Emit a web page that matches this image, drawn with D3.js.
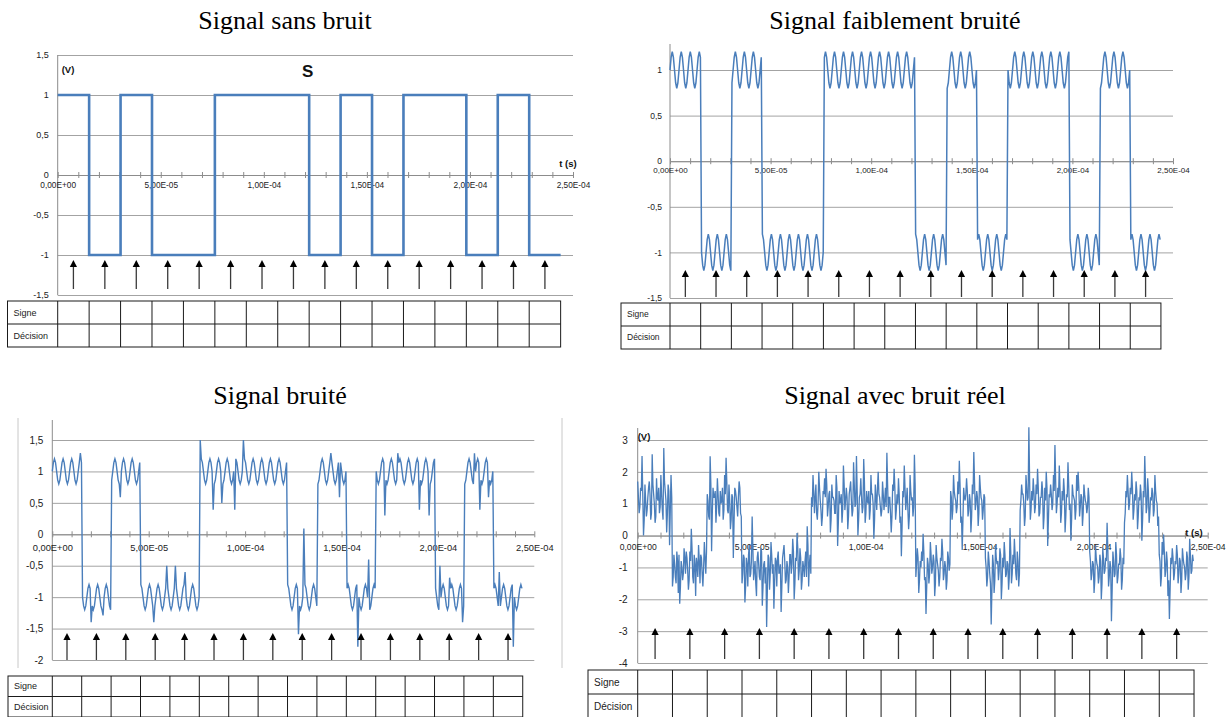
<!DOCTYPE html>
<html><head><meta charset="utf-8">
<script src="https://cdn.jsdelivr.net/npm/d3@7"></script>
<style>body{margin:0;background:#fff;} svg{display:block;}</style>
</head><body>
<svg id="c" width="1231" height="717"></svg>
<script>
// ---------- DATA ----------
const titles = ["Signal sans bruit","Signal faiblement bruité","Signal bruité","Signal avec bruit réel"];
const bitPeriod = 1.525e-5;                     // s
const bits = [1,0,1,0,0,1,1,1,0,1,0,1,1,0,1,0];
const xTickValues = [0,5e-5,1e-4,1.5e-4,2e-4,2.5e-4];
const xTickLabels = ["0,00E+00","5,00E-05","1,00E-04","1,50E-04","2,00E-04","2,50E-04"];
const yTicks1 = [1.5,1,0.5,0,-0.5,-1,-1.5];
const yTicks2 = [1,0.5,0,-0.5,-1,-1.5];
const yTicks3 = [1.5,1,0.5,0,-0.5,-1,-1.5,-2];
const yTicks4 = [3,2,1,0,-1,-2,-3,-4];
const rowLabels = ["Signe","Décision"];
const ripple = [0,0.14,0.2,0.14,0,-0.14,-0.2,-0.14];
const rippleStep = 5.6e-7;                       // s between samples
// spikes read from the "bruité" trace: [t (s), value (V)]
const spikes3 = [
 [1.44e-5,1.29],[2.04e-5,-1.40],[2.61e-5,-1.29],[3.51e-5,0.59],[5.24e-5,-1.40],
 [5.93e-5,-0.50],[6.36e-5,-0.50],[6.88e-5,-0.60],[7.68e-5,1.50],[8.32e-5,0.39],
 [8.79e-5,0.50],[9.44e-5,0.39],[9.91e-5,1.50],[1.275e-4,-1.59],[1.307e-4,0.09],
 [1.444e-4,1.29],[1.488e-4,0.59],[1.587e-4,-1.79],[1.639e-4,-0.40],[1.726e-4,0.30],
 [1.791e-4,1.29],[1.903e-4,0.39],[1.956e-4,0.30],[2.011e-4,-0.50],[2.063e-4,-0.69],
 [2.128e-4,-1.40],[2.19e-4,1.29],[2.218e-4,0.39],[2.265e-4,0.59],[2.318e-4,-0.60],
 [2.39e-4,-1.79]
];
// "bruit réel" trace: deviation from ±1 V.
// noise4 = even samples (incl. the visible extremes), noise4Mid = odd samples in between.
const noise4 = [
 [0.7,-0.3,0.5,1.5,-1.0,0.6,-0.4,0.2,0.7,-0.5,1.55,0.3,-0.6,0.8,0.1,-0.3,0.9,-0.2,1.75,0.4,-0.9,0.6,-1.3,0.9],
 [-0.6,0.4,-0.3,0.5,-0.8,-1.14,0.2,-0.4,0.6,-0.2,0.3,-0.7,0.5,1.21,-0.3,0.4,-0.9,0.1,0.7,-0.5,0.3,-0.6,0.8,-0.2],
 [0.3,-0.4,1.49,-1.49,0.5,0.2,-0.6,0.8,-0.3,0.4,0.1,-0.5,0.9,1.44,-0.2,0.6,-0.8,0.3,-1.7,0.5,0.2,-0.4,0.7,-0.3],
 [-0.5,0.4,-1.1,0.3,-0.6,0.7,-0.2,1.6,-0.4,0.2,-0.9,0.5,-0.3,0.6,-1.2,0.1,-0.5,-1.87,0.4,-0.7,0.8,-0.2,-1.3,0.3],
 [-0.6,0.5,-0.1,-1.4,0.3,0.7,-0.5,0.2,-0.8,0.4,-0.2,0.9,-1.0,0.3,1.08,-0.4,0.6,-0.7,0.2,-0.3,0.5,1.29,-0.6,0.4],
 [0.2,0.9,-0.3,0.6,-0.5,1.0,0.1,-0.7,0.4,0.8,1.1,-0.4,0.3,-0.9,0.6,0.2,-0.3,0.9,-1.33,0.4,0.1,-0.6,1.2,-0.2],
 [0.5,-0.8,0.3,0.7,-0.4,1.3,-0.1,1.5,-1.0,0.2,0.8,-0.3,1.4,-0.6,0.4,0.0,-0.5,0.9,0.3,-1.1,0.6,-0.2,1.0,0.2],
 [-0.4,0.7,-0.2,0.5,1.6,-0.3,0.2,-0.9,0.6,1.1,-0.5,0.3,0.8,-0.6,-1.65,0.4,1.2,-0.2,0.5,-0.8,0.9,0.1,-0.4,1.54],
 [-0.3,0.6,-0.8,0.2,0.5,1.06,-0.4,-1.46,0.3,-0.5,0.8,-0.2,0.4,-0.9,0.7,0.1,-0.6,0.3,0.9,-0.4,0.2,-0.7,0.5,-0.1],
 [0.4,-0.5,0.9,0.2,-0.3,0.7,1.35,-0.6,-1.45,0.5,0.1,0.8,-0.4,0.3,-0.9,0.6,1.62,-0.2,0.4,-0.7,0.9,0.2,-0.5,0.3],
 [0.3,-0.6,0.5,-0.2,-1.79,0.4,-0.8,0.7,0.1,-0.4,0.6,-1.0,0.3,0.8,-0.3,0.2,-0.7,1.24,-0.5,0.4,0.9,-0.2,0.5,-0.6],
 [-0.2,0.6,0.3,-0.7,0.9,0.1,2.4,-0.5,0.4,0.8,-0.3,0.6,1.1,-0.4,0.2,0.7,-0.8,0.5,1.0,-1.33,0.3,0.6,-0.2,0.9],
 [1.84,-0.3,0.5,1.2,-0.6,0.4,0.8,-0.9,0.3,1.3,-0.2,-1.16,0.6,0.2,-0.5,0.9,1.0,-0.4,0.3,-0.7,0.6,0.1,-0.3,0.5],
 [0.5,-0.4,0.2,-0.8,0.7,0.1,-0.5,0.4,-1.0,0.6,-0.2,0.3,1.4,-0.6,0.2,-1.69,0.5,-0.3,0.8,-0.5,0.1,0.6,-0.7,0.3],
 [-0.6,0.4,0.9,-0.2,0.5,1.0,-0.5,0.3,0.7,-0.8,0.2,0.6,-1.16,0.4,1.5,-0.3,0.8,-0.6,0.2,0.5,-0.4,0.9,0.1,-0.7],
 [0.4,-0.6,0.8,1.03,-0.3,0.5,-0.9,-1.62,0.3,0.6,-0.4,0.2,0.7,-0.5,0.3,-0.8,0.6,0.1,-0.4,0.5,-0.7,0.9,-0.2,0.4]
];
const noise4Mid = [
 [0.2,-0.1,0.4,0.3,-0.5,0.1,-0.2,0.5,0.3,-0.3,0.6,0.0,-0.4,0.2,0.5,-0.1,0.3,-0.5,0.7,0.1,-0.3,0.4,-0.2,0.2],
 [-0.3,0.1,-0.5,0.2,0.4,-0.6,0.0,-0.2,0.3,0.5,-0.1,-0.4,0.2,0.6,-0.5,0.1,0.3,-0.3,0.2,0.4,-0.2,0.0,0.3,0.5],
 [0.1,-0.5,0.6,-0.3,0.2,0.4,-0.1,0.3,-0.4,0.0,0.5,-0.2,0.3,0.7,-0.3,0.1,-0.5,0.2,-0.6,0.4,-0.1,0.2,0.5,-0.4],
 [-0.2,0.3,-0.6,0.1,0.4,-0.3,0.2,0.6,-0.1,-0.5,0.3,0.1,-0.4,0.5,-0.6,0.2,0.0,-0.7,0.3,-0.2,0.4,0.1,-0.5,0.2],
 [0.3,-0.2,0.1,-0.6,0.5,0.2,-0.4,0.0,-0.3,0.4,0.1,0.5,-0.5,0.2,0.6,-0.1,0.3,-0.4,0.0,0.2,-0.3,0.7,0.1,-0.2],
 [-0.1,0.4,0.2,-0.3,0.0,0.5,-0.2,-0.4,0.3,0.2,0.6,-0.1,0.4,-0.5,0.2,0.1,-0.3,0.5,-0.6,0.0,0.3,-0.2,0.6,0.1],
 [0.2,-0.4,0.5,0.1,-0.2,0.6,0.0,0.4,-0.5,0.3,0.2,-0.1,0.7,-0.3,0.1,0.4,-0.2,0.3,0.0,-0.5,0.2,0.5,0.3,-0.1],
 [-0.2,0.3,0.1,-0.1,0.6,0.2,-0.3,-0.4,0.4,0.5,-0.2,0.0,0.3,-0.4,-0.7,0.2,0.5,0.1,-0.2,-0.4,0.4,0.2,-0.1,0.6],
 [0.1,0.3,-0.4,0.0,0.2,0.5,-0.3,-0.6,0.1,-0.2,0.4,0.0,0.2,-0.5,0.3,-0.1,-0.3,0.2,0.5,-0.2,0.0,-0.4,0.3,0.1],
 [0.2,-0.2,0.4,0.1,-0.1,0.3,0.6,-0.4,-0.5,0.2,0.3,0.4,-0.2,0.1,-0.4,0.3,0.7,0.0,0.2,-0.3,0.5,0.1,-0.2,0.2],
 [0.0,-0.3,0.2,-0.5,-0.7,0.1,-0.4,0.3,0.2,-0.1,0.4,-0.5,0.0,0.4,-0.2,0.1,-0.3,0.5,-0.2,0.1,0.4,-0.4,0.2,-0.2],
 [0.1,0.3,0.0,-0.4,0.5,0.2,0.8,-0.2,0.1,0.4,-0.1,0.3,0.5,-0.3,0.2,0.4,-0.4,0.1,0.5,-0.5,0.2,0.3,0.0,0.4],
 [0.7,0.0,0.2,0.5,-0.3,0.1,0.4,-0.4,0.2,0.6,0.0,-0.5,0.3,0.1,-0.2,0.4,0.5,-0.1,0.2,-0.3,0.3,0.0,-0.1,0.2],
 [0.2,-0.2,0.1,-0.4,0.3,0.0,-0.3,0.2,-0.5,0.3,-0.1,0.2,0.6,-0.3,0.0,-0.7,0.2,-0.2,0.4,-0.3,0.1,0.3,-0.4,0.1],
 [-0.3,0.2,0.4,0.0,0.3,0.5,-0.2,0.1,0.4,-0.4,0.1,0.3,-0.5,0.2,0.6,-0.1,0.4,-0.3,0.1,0.3,-0.2,0.4,0.0,-0.4],
 [0.2,-0.3,0.4,0.5,-0.1,0.2,-0.4,-0.7,0.1,0.3,-0.2,0.1,0.4,-0.2,0.2,-0.4,0.3,0.0,-0.2,0.3,-0.3,0.4,-0.1,0.2]
];

// ---------- SERIES ----------
const nBits = bits.length, tEnd = nBits*bitPeriod;
const lvl = b => b ? 1 : -1;
const series1 = bits.map((b,i)=>({t:i*bitPeriod, v:lvl(b)}));
series1.push({t:tEnd, v:lvl(bits[nBits-1])});
const series2 = [];
for (let k=0; k*rippleStep <= tEnd; k++){
  const t = k*rippleStep;
  const bi = Math.min(nBits-1, Math.floor(t/bitPeriod + 1e-9));
  series2.push({t, v: lvl(bits[bi]) + ripple[k % ripple.length]});
}
const series3 = series2.map(d=>({t:d.t, v:d.v}));
spikes3.forEach(([t,v])=>{ const k=Math.round(t/rippleStep); if(series3[k]) series3[k].v=v; });
const series4 = [];
noise4.forEach((row,bi)=>{
  const n = row.length*2, dt = bitPeriod/n;
  row.forEach((dv,j)=>{
    series4.push({t:bi*bitPeriod + (2*j)*dt,   v:lvl(bits[bi])+dv});
    series4.push({t:bi*bitPeriod + (2*j+1)*dt, v:lvl(bits[bi])+noise4Mid[bi][j]});
  });
});

// ---------- LAYOUT ----------
const panels = [
 {title:titles[0], tx:285, ty:29, x0:57.7, x1:573, yDom:[-1.5,1.5], yR:[295,55], axisTop:55, yTicks:yTicks1,
  series:series1, step:true, lw:2.6, xFont:8.3, yFont:9, xLabDy:7, yLabPad:9,
  arrowTop:260, arrowBot:289, table:{left:7.5, top:301, rowH:23, font:9},
  vLab:[68,72.5], tLab:[568,166.5], sLab:[307.7,77]},
 {title:titles[1], tx:895, ty:29, x0:670, x1:1173, yDom:[-1.5,1], yR:[298,70], axisTop:44, yTicks:yTicks2,
  series:series2, lw:1.5, xFont:8, yFont:8.5, xLabDy:6, yLabPad:8,
  arrowTop:270, arrowBot:297, table:{left:621, top:303, rowH:23, font:8.5}},
 {title:titles[2], tx:280, ty:404, x0:52.3, x1:534.3, yDom:[-2,1.5], yR:[660,440], axisTop:420, yTicks:yTicks3,
  series:series3, lw:1.4, xFont:9.3, yFont:10, xLabDy:10, yLabPad:9,
  arrowTop:633, arrowBot:660, table:{left:8, top:676, rowH:20.5, font:9}, frame:[18,562,418,668]},
 {title:titles[3], tx:895, ty:404, x0:637.7, x1:1207.7, yDom:[-4,3], yR:[663,440], axisTop:428, yTicks:yTicks4,
  series:series4, lw:1.3, xFont:8.6, yFont:10, xLabDy:8, yLabPad:10,
  arrowTop:628, arrowBot:659, table:{left:588, top:670, rowH:24, font:10},
  vLab:[644,439.5], tLab:[1194,535.5]}
];

const svg = d3.select("#c");
const blue = "#4a7ebb", grid = "#a3a3a3", txt = "#222";
const fontSans = "'Liberation Sans', Arial, sans-serif";
const minorTicks = d3.range(0, 26).map(i=>i*1e-5);

panels.forEach(p=>{
  const g = svg.append("g");
  const x = d3.scaleLinear().domain([0,2.5e-4]).range([p.x0,p.x1]);
  const y = d3.scaleLinear().domain(p.yDom).range(p.yR);

  if (p.frame){
    const [fl,fr,ft,fb] = p.frame;
    g.append("line").attr("x1",fl).attr("x2",fl).attr("y1",ft).attr("y2",fb).attr("stroke","#c8c8c8");
    g.append("line").attr("x1",fr).attr("x2",fr).attr("y1",ft).attr("y2",fb).attr("stroke","#c8c8c8");
  }

  // title
  g.append("text").attr("x",p.tx).attr("y",p.ty).attr("text-anchor","middle")
    .attr("font-family","'Liberation Serif','Times New Roman',serif").attr("font-size",26)
    .attr("fill","#000").text(p.title);

  // gridlines
  const gGrid = g.append("g").attr("transform",`translate(${p.x0},0)`)
    .call(d3.axisLeft(y).tickValues(p.yTicks).tickSize(-(p.x1-p.x0)).tickFormat(""));
  gGrid.select(".domain").remove();
  gGrid.selectAll(".tick line").attr("stroke",grid).attr("stroke-width",1);

  // y labels
  const gY = g.append("g").attr("transform",`translate(${p.x0},0)`)
    .call(d3.axisLeft(y).tickValues(p.yTicks).tickSize(0).tickPadding(p.yLabPad)
      .tickFormat(d=>String(d).replace(".",",")));
  gY.select(".domain").remove();
  gY.selectAll("text").attr("font-family",fontSans).attr("font-size",p.yFont).attr("fill",txt);
  // y axis line
  g.append("line").attr("x1",p.x0).attr("x2",p.x0).attr("y1",p.axisTop).attr("y2",p.yR[0])
    .attr("stroke","#8c8c8c").attr("stroke-width",1);

  // x axis at 0 with crossing minor ticks
  const y0 = y(0);
  const gXb = g.append("g").attr("transform",`translate(0,${y0})`)
    .call(d3.axisBottom(x).tickValues(minorTicks).tickSize(3).tickSizeOuter(0).tickFormat(""));
  const gXt = g.append("g").attr("transform",`translate(0,${y0})`)
    .call(d3.axisTop(x).tickValues(minorTicks).tickSize(3).tickSizeOuter(0).tickFormat(""));
  gXt.select(".domain").remove();
  [gXb,gXt].forEach(a=>{a.selectAll("line").attr("stroke","#8c8c8c"); a.select(".domain").attr("stroke","#8c8c8c");});
  const gXl = g.append("g").attr("transform",`translate(0,${y0})`)
    .call(d3.axisBottom(x).tickValues(xTickValues).tickSize(0).tickPadding(p.xLabDy)
      .tickFormat((d,i)=>xTickLabels[i]));
  gXl.select(".domain").remove();
  gXl.selectAll("text").attr("font-family",fontSans).attr("font-size",p.xFont).attr("fill",txt);

  // signal
  const line = d3.line().x(d=>x(d.t)).y(d=>y(d.v));
  if (p.step) line.curve(d3.curveStepAfter);
  g.append("path").datum(p.series).attr("d",line).attr("fill","none")
    .attr("stroke",blue).attr("stroke-width",p.lw).attr("stroke-linejoin","miter");

  // sampling arrows
  bits.forEach((b,i)=>{
    const xc = x((i+0.5)*bitPeriod);
    g.append("line").attr("x1",xc).attr("x2",xc).attr("y1",p.arrowBot).attr("y2",p.arrowTop+5)
      .attr("stroke","#3a3a3a").attr("stroke-width",1.3);
    g.append("path").attr("d",`M${xc},${p.arrowTop} L${xc-3.6},${p.arrowTop+7} L${xc+3.6},${p.arrowTop+7} Z`)
      .attr("fill","#000");
  });

  // table
  const t = p.table;
  const cols = d3.range(0, nBits+1).map(i=>x(i*bitPeriod));
  const right = cols[cols.length-1], bottom = t.top + 2*t.rowH;
  const tg = g.append("g").attr("stroke","#1a1a1a").attr("stroke-width",1).attr("fill","none");
  tg.append("rect").attr("x",t.left).attr("y",t.top).attr("width",right-t.left).attr("height",2*t.rowH);
  tg.append("line").attr("x1",t.left).attr("x2",right).attr("y1",t.top+t.rowH).attr("y2",t.top+t.rowH);
  cols.slice(0,-1).forEach(cx=>tg.append("line").attr("x1",cx).attr("x2",cx).attr("y1",t.top).attr("y2",bottom));
  rowLabels.forEach((lab,r)=>{
    g.append("text").attr("x",t.left+6).attr("y",t.top+r*t.rowH+t.rowH/2).attr("dy","0.35em")
      .attr("font-family",fontSans).attr("font-size",t.font).attr("fill",txt).text(lab);
  });

  // annotations
  if (p.vLab) g.append("text").attr("x",p.vLab[0]).attr("y",p.vLab[1]).attr("text-anchor","middle")
    .attr("font-family",fontSans).attr("font-weight","bold").attr("font-size",9.5).attr("fill","#111").text("(V)");
  if (p.tLab) g.append("text").attr("x",p.tLab[0]).attr("y",p.tLab[1]).attr("text-anchor","middle")
    .attr("font-family",fontSans).attr("font-weight","bold").attr("font-size",9.5).attr("fill","#111").text("t (s)");
  if (p.sLab) g.append("text").attr("x",p.sLab[0]).attr("y",p.sLab[1]).attr("text-anchor","middle")
    .attr("font-family",fontSans).attr("font-weight","bold").attr("font-size",17).attr("fill","#111").text("S");
});
</script>
</body></html>
